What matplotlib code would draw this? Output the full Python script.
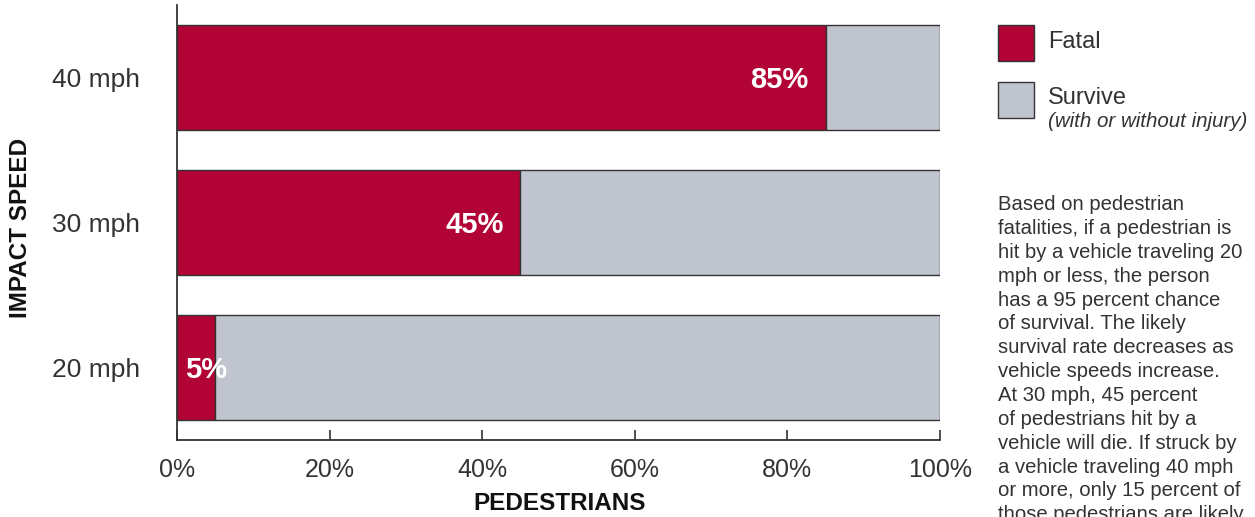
import matplotlib
matplotlib.use("Agg")
import matplotlib.pyplot as plt
from matplotlib.patches import Rectangle

speeds = ["20 mph", "30 mph", "40 mph"]
fatal = [5, 45, 85]
survive = [95, 55, 15]
bar_labels = ["5%", "45%", "85%"]
xticks = [0, 20, 40, 60, 80, 100]
xtick_labels = ["0%", "20%", "40%", "60%", "80%", "100%"]

fatal_color = "#B10335"
survive_color = "#C0C4CE"
edge = "#333333"
text_color = "#333333"

plt.rcParams['font.family'] = ['Liberation Sans', 'DejaVu Sans']

fig = plt.figure(figsize=(12.55, 5.17), dpi=100)
ax = fig.add_axes([177/1255, 1-440/517, (940-177)/1255, (440-5)/517])

y = list(range(len(speeds)))
ax.barh(y, fatal, height=0.724, color=fatal_color, edgecolor=edge, linewidth=1)
ax.barh(y, survive, left=fatal, height=0.724, color=survive_color, edgecolor=edge, linewidth=1)

for yi, f, lab in zip(y, fatal, bar_labels):
    if f < 10:
        ax.text(1.1, yi - 0.02, lab, ha='left', va='center', color='white',
                fontsize=21, fontweight='bold')
    else:
        ax.text(f - 2.2, yi - 0.02, lab, ha='right', va='center', color='white',
                fontsize=21, fontweight='bold')

ax.set_xlim(0, 100)
ax.set_ylim(-0.5, 2.5)
ax.set_yticks(y)
ax.set_yticklabels(speeds, fontsize=19, color=text_color)
ax.tick_params(axis='y', length=0, pad=26.6)
ax.set_xticks(xticks)
ax.set_xticklabels(xtick_labels, fontsize=18, color=text_color)
ax.tick_params(axis='x', direction='in', length=7, width=1.2, color=edge, pad=13)
for s in ['top', 'right']:
    ax.spines[s].set_visible(False)
for s in ['left', 'bottom']:
    ax.spines[s].set_color(edge)
    ax.spines[s].set_linewidth(1.3)

fig.text(21/1255, 1-228/517, "IMPACT SPEED", rotation=90, ha='center', va='center',
         fontsize=17.5, fontweight='bold', color='#111111')
fig.text(560/1255, 1-503/517, "PEDESTRIANS", ha='center', va='center',
         fontsize=17.5, fontweight='bold', color='#111111')

# legend
for (y0, col) in [(25, fatal_color), (82, survive_color)]:
    fig.patches.append(Rectangle((998/1255, 1-(y0+36)/517), 36/1255, 36/517,
                                 transform=fig.transFigure, facecolor=col,
                                 edgecolor=edge, linewidth=1))
fig.text(1048/1255, 1-42/517, "Fatal", ha='left', va='center', fontsize=17, color=text_color)
fig.text(1048/1255, 1-98/517, "Survive", ha='left', va='center', fontsize=17, color=text_color)
fig.text(1048/1255, 1-122/517, "(with or without injury)", ha='left', va='center',
         fontsize=14.8, style='italic', color=text_color)

para = ("Based on pedestrian\nfatalities, if a pedestrian is\nhit by a vehicle traveling 20\n"
        "mph or less, the person\nhas a 95 percent chance\nof survival. The likely\n"
        "survival rate decreases as\nvehicle speeds increase.\nAt 30 mph, 45 percent\n"
        "of pedestrians hit by a\nvehicle will die. If struck by\na vehicle traveling 40 mph\n"
        "or more, only 15 percent of\nthose pedestrians are likely")
fig.text(998/1255, 1-195/517, para, ha='left', va='top', fontsize=14.6,
         color=text_color, linespacing=1.325)

fig.savefig("out.png", dpi=100)
